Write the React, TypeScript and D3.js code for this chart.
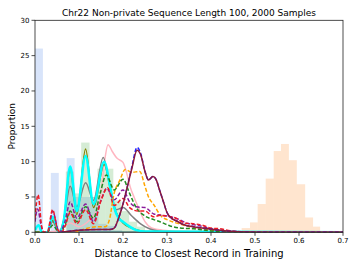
import React from "react";
import * as d3 from "d3";

const TITLE = "Chr22 Non-private Sequence Length 100, 2000 Samples";
const X_LABEL = "Distance to Closest Record in Training";
const Y_LABEL = "Proportion";
const X_TICKS = [0, 0.1, 0.2, 0.3, 0.4, 0.5, 0.6, 0.7];
const Y_TICKS = [0, 5, 10, 15, 20, 25, 30];

// Histograms: [left edge, right edge, height]
const BLUE_HIST: [number, number, number][] = [
  [0.0, 0.018, 26],
  [0.036, 0.054, 8.4],
  [0.072, 0.09, 10.5],
  [0.09, 0.108, 5.0],
  [0.108, 0.126, 5.0],
  [0.126, 0.144, 5.0],
  [0.144, 0.162, 1.2],
  [0.162, 0.18, 0.9],
  [0.18, 0.198, 0.3],
];
const GREEN_HIST: [number, number, number][] = [
  [0.07, 0.088, 8.6],
  [0.088, 0.105, 5.5],
  [0.105, 0.124, 12.7],
  [0.124, 0.142, 5.0],
  [0.142, 0.16, 9.0],
  [0.16, 0.178, 9.0],
  [0.178, 0.196, 4.5],
  [0.196, 0.214, 3.0],
  [0.214, 0.232, 1.5],
  [0.232, 0.25, 0.8],
];
const ORANGE_HIST: [number, number, number][] = [
  [0.4697, 0.4886, 0.6],
  [0.4886, 0.506, 1.4],
  [0.506, 0.5243, 4.0],
  [0.5243, 0.5425, 7.6],
  [0.5425, 0.559, 11.5],
  [0.559, 0.577, 12.5],
  [0.577, 0.595, 10.2],
  [0.595, 0.614, 6.8],
  [0.614, 0.632, 2.1],
  [0.632, 0.648, 0.8],
];

// Curves: [x, y]
const PINK: [number, number][] = [
  [0.0, 0], [0.05, 0.2], [0.08, 1.3], [0.1, 0.8], [0.12, 1.5], [0.14, 3.0], [0.15, 5.5],
  [0.158, 10], [0.166, 12.4], [0.176, 11.4], [0.186, 10.5], [0.2, 9.9], [0.21, 8.0],
  [0.216, 6.5], [0.225, 5.0], [0.235, 3.5], [0.25, 1.5], [0.265, 0.6], [0.29, 0.3], [0.35, 0.1], [0.7, 0],
];
const GREY: [number, number][] = [
  [0.0, 0], [0.028, 0], [0.04, 1.5], [0.055, 0], [0.066, 2.0], [0.08, 6.5], [0.095, 3.6],
  [0.115, 7.0], [0.133, 4.5], [0.155, 10.6], [0.17, 6.5], [0.185, 3.2], [0.2, 3.5],
  [0.22, 2.3], [0.24, 1.2], [0.26, 0.5], [0.28, 0.2], [0.3, 0.05], [0.7, 0],
];
const OLIVE: [number, number][] = [
  [0.0, 0], [0.028, 0], [0.04, 1.7], [0.055, 0], [0.065, 1.5], [0.08, 9.0], [0.095, 2.5],
  [0.115, 11.8], [0.133, 3.5], [0.157, 9.6], [0.172, 6.0], [0.18, 3.5], [0.19, 2.2],
  [0.2, 1.3], [0.22, 0.6], [0.25, 0.1], [0.7, 0],
];
const CYAN: [number, number][] = [
  [0.0, 0.3], [0.008, 1.0], [0.016, 0], [0.028, 0], [0.04, 2.2], [0.055, 0], [0.065, 1.5],
  [0.08, 9.3], [0.095, 3.0], [0.115, 10.8], [0.133, 4.0], [0.157, 10.0], [0.172, 6.0],
  [0.18, 3.5], [0.19, 2.0], [0.2, 1.5], [0.215, 0.8], [0.23, 0.3], [0.25, 0.1], [0.7, 0],
];
const GREEN_D: [number, number][] = [
  [0.0, 0], [0.028, 0], [0.04, 1.0], [0.055, 0], [0.068, 1.0], [0.08, 3.0], [0.095, 1.5],
  [0.115, 3.6], [0.133, 2.0], [0.148, 5.5], [0.162, 8.1], [0.18, 6.0], [0.2, 7.5],
  [0.215, 5.5], [0.23, 3.5], [0.25, 2.3], [0.27, 1.8], [0.284, 1.5], [0.307, 0.9],
  [0.33, 0.6], [0.36, 0.5], [0.4, 0.2], [0.45, 0.05], [0.7, 0],
];
const PURPLE_D: [number, number][] = [
  [0.0, 1.5], [0.006, 3.3], [0.014, 1.0], [0.02, 0], [0.03, 0.2], [0.04, 3.0], [0.055, 0],
  [0.068, 1.5], [0.08, 4.3], [0.095, 2.0], [0.115, 4.0], [0.133, 1.5], [0.15, 4.5],
  [0.163, 6.2], [0.18, 4.6], [0.2, 6.0], [0.215, 4.3], [0.23, 3.6], [0.25, 3.5],
  [0.27, 2.6], [0.3, 2.3], [0.32, 2.0], [0.35, 1.2], [0.37, 1.0], [0.4, 0.5], [0.45, 0.15],
  [0.5, 0.02], [0.7, 0],
];
const RED_D: [number, number][] = [
  [0.0, 2.0], [0.007, 5.3], [0.016, 0.5], [0.022, 0], [0.028, 0], [0.04, 3.2], [0.052, 0.3],
  [0.06, 0], [0.068, 0.8], [0.08, 2.8], [0.095, 1.2], [0.115, 3.2], [0.133, 1.2],
  [0.15, 4.5], [0.165, 6.3], [0.18, 3.8], [0.2, 4.8], [0.215, 3.5], [0.235, 3.0],
  [0.25, 3.0], [0.27, 2.2], [0.285, 2.4], [0.3, 2.3], [0.32, 2.0], [0.34, 1.3], [0.36, 1.2],
  [0.38, 1.0], [0.4, 0.6], [0.42, 0.5], [0.45, 0.15], [0.5, 0.02], [0.7, 0],
];
const ORANGE_D: [number, number][] = [
  [0.09, 0], [0.115, 0.5], [0.14, 0.8], [0.16, 0.8], [0.17, 2.0], [0.178, 5.0],
  [0.193, 7.4], [0.205, 8.9], [0.22, 8.5], [0.238, 8.6], [0.25, 6.5], [0.258, 5.0],
  [0.27, 3.9], [0.288, 2.2], [0.3, 1.8], [0.322, 1.3], [0.35, 0.8], [0.37, 0.5],
  [0.4, 0.3], [0.45, 0.05], [0.7, 0],
];
const BLUE_D: [number, number][] = [
  [0.06, 0], [0.1, 0.3], [0.15, 0.4], [0.17, 0.4], [0.18, 0.6], [0.19, 2.0], [0.2, 4.0],
  [0.21, 6.5], [0.22, 9.2], [0.232, 12.0], [0.24, 11.2], [0.25, 8.6], [0.258, 7.4],
  [0.268, 7.9], [0.275, 7.5], [0.284, 5.8], [0.292, 4.3], [0.3, 2.8], [0.31, 2.0],
  [0.322, 1.6], [0.337, 1.1], [0.36, 0.8], [0.38, 0.6], [0.405, 0.4], [0.45, 0.1],
  [0.5, 0.02], [0.7, 0],
];
const MAROON: [number, number][] = [
  [0.06, 0], [0.1, 0.3], [0.15, 0.4], [0.17, 0.4], [0.18, 0.6], [0.19, 2.0], [0.2, 4.0],
  [0.21, 6.5], [0.22, 9.0], [0.232, 11.6], [0.24, 11.0], [0.25, 8.6], [0.258, 7.4],
  [0.268, 7.9], [0.275, 7.5], [0.284, 5.8], [0.292, 4.3], [0.3, 2.8], [0.31, 2.0],
  [0.322, 1.6], [0.337, 1.1], [0.36, 0.8], [0.38, 0.6], [0.405, 0.4], [0.45, 0.1],
  [0.5, 0.02], [0.7, 0],
];
const BASELINE: [number, number][] = [[0.0, 0], [0.7, 0]];

const W = 357, H = 268;
const L = 35, R = 343, T = 20.3, B = 232.3;
const FONT = "DejaVu Sans, sans-serif";

export default function App() {
  const x = d3.scaleLinear().domain([0, 0.7]).range([L, R]);
  const y = d3.scaleLinear().domain([0, 30]).range([B, T]);
  const line = d3.line<[number, number]>().x(d => x(d[0])).y(d => y(d[1])).curve(d3.curveMonotoneX);

  const hist = (data: [number, number, number][], fill: string, op: number, key: string) =>
    data.map((d, i) => (
      <rect key={key + i} x={x(d[0])} y={y(d[2])} width={x(d[1]) - x(d[0])} height={y(0) - y(d[2])}
        fill={fill} fillOpacity={op} />
    ));

  const curves: { d: [number, number][]; c: string; w: number; dash?: string }[] = [
    { d: BASELINE, c: "#1f5f5f", w: 1.5 },
    { d: PINK, c: "#ffb6c1", w: 1.5 },
    { d: GREY, c: "#808080", w: 1.5 },
    { d: OLIVE, c: "#808000", w: 1.5 },
    { d: CYAN, c: "#00ffff", w: 2.5 },
    { d: ORANGE_D, c: "#ffa500", w: 1.5, dash: "4,2" },
    { d: GREEN_D, c: "#228b22", w: 1.5, dash: "4,2" },
    { d: PURPLE_D, c: "#8b1a9b", w: 1.5, dash: "4,2" },
    { d: RED_D, c: "#ee1c25", w: 1.5, dash: "4,2" },
    { d: BLUE_D, c: "#2020ff", w: 1.5, dash: "4,2" },
    { d: MAROON, c: "#8b1a3a", w: 1.5 },
  ];

  return (
    <div style={{ position: "fixed", left: 0, top: 0 }}>
      <svg width={W} height={H} style={{ display: "block", background: "#fff" }}>
        <defs>
          <clipPath id="plot"><rect x={L} y={T} width={R - L} height={B - T} /></clipPath>
        </defs>
        <g clipPath="url(#plot)">
          {hist(BLUE_HIST, "#6495ed", 0.25, "b")}
          {hist(GREEN_HIST, "#2ca02c", 0.2, "g")}
          {hist(ORANGE_HIST, "#ff7f0e", 0.2, "o")}
          {curves.map((c, i) => (
            <path key={i} d={line(c.d) || ""} fill="none" stroke={c.c} strokeWidth={c.w}
              strokeDasharray={c.dash} strokeLinejoin="round" />
          ))}
        </g>
        <rect x={L} y={T} width={R - L} height={B - T} fill="none" stroke="#222" strokeWidth={0.8} />
        {X_TICKS.map(t => (
          <g key={"x" + t}>
            <line x1={x(t)} x2={x(t)} y1={B} y2={B + 3.5} stroke="#222" strokeWidth={0.8} />
            <text x={x(t)} y={B + 11} fontSize={7} fontFamily={FONT} textAnchor="middle" fill="#000">{t.toFixed(1)}</text>
          </g>
        ))}
        {Y_TICKS.map(t => (
          <g key={"y" + t}>
            <line x1={L - 3.5} x2={L} y1={y(t)} y2={y(t)} stroke="#222" strokeWidth={0.8} />
            <text x={L - 5.5} y={y(t) + 2.5} fontSize={7} fontFamily={FONT} textAnchor="end" fill="#000">{t}</text>
          </g>
        ))}
        <text x={(L + R) / 2} y={16} fontSize={9} fontFamily={FONT} textAnchor="middle" fill="#000">{TITLE}</text>
        <text x={(L + R) / 2} y={257} fontSize={10} fontFamily={FONT} textAnchor="middle" fill="#000">{X_LABEL}</text>
        <text transform={`translate(15,${(T + B) / 2}) rotate(-90)`} fontSize={9} fontFamily={FONT} textAnchor="middle" fill="#000">{Y_LABEL}</text>
      </svg>
    </div>
  );
}
